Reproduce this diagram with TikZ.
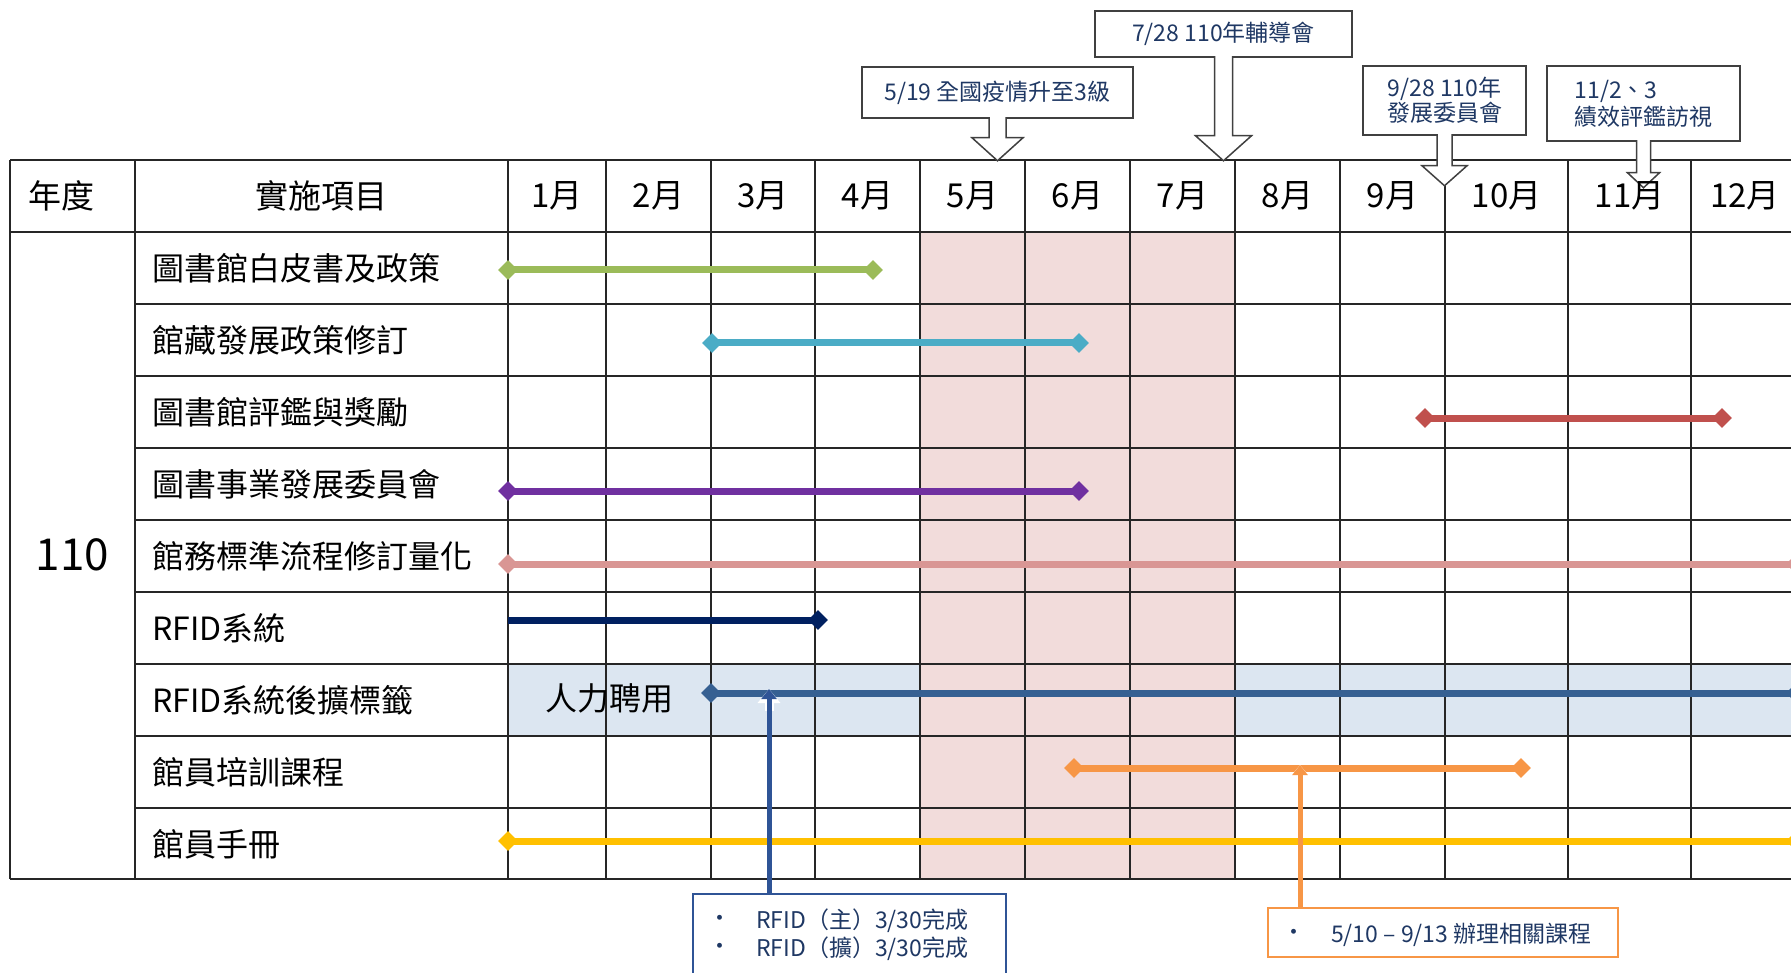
\documentclass[tikz,border=0pt]{standalone}
\usepackage{fontspec}
\setmainfont{Noto Sans CJK TC}
\usetikzlibrary{shapes.geometric,arrows.meta,calc}
\definecolor{gGreen}{HTML}{9BBB59}
\definecolor{gCyan}{HTML}{4BACC6}
\definecolor{gRed}{HTML}{C0504D}
\definecolor{gPurple}{HTML}{7030A0}
\definecolor{gPink}{HTML}{D99694}
\definecolor{gNavy}{HTML}{002060}
\definecolor{gBlue}{HTML}{366092}
\definecolor{gOrange}{HTML}{F79646}
\definecolor{gYellow}{HTML}{FFC000}
\definecolor{shadePink}{HTML}{F2DCDB}
\definecolor{shadeBlue}{HTML}{DCE6F1}
\definecolor{calltext}{HTML}{1F3864}
\definecolor{boxNavy}{HTML}{2F5496}
\definecolor{gridc}{HTML}{262626}
\tikzset{
  gridline/.style={draw=gridc, line width=1.6pt},
  bar/.style={line width=7pt},
  dia/.style={diamond, fill=#1, minimum width=20pt, minimum height=20pt, inner sep=0pt},
  lbl/.style={anchor=west, font=\fontsize{32}{36}\selectfont, inner sep=0pt},
  hdr/.style={font=\fontsize{33}{36}\selectfont, inner sep=0pt},
  callbox/.style={draw=black!75, line width=1.5pt, fill=white, align=center, text=calltext, font=\fontsize{23}{25}\selectfont, inner sep=0pt},
  callarrow/.style={draw=black!75, line width=1.5pt, fill=white, line join=miter},
  conn/.style={line width=5pt, -{Triangle[width=15pt,length=10pt]}},
  halo/.style={draw=white, line width=9pt, -{Triangle[width=22pt,length=14pt]}},
  btxt/.style={text=calltext, font=\fontsize{23}{25}\selectfont, inner sep=0pt},
}
\newcommand{\calloutarrow}[5]{%
  \draw[callarrow] ($(#1.south)+(-#2,-1.5)$) -- ++(0,#3+1.5) -- ++(#2-#4,0) -- ++(#4,#5) -- ++(#4,-#5) -- ++(#2-#4,0) -- ++(0,-#3-1.5);}
\begin{document}
\begin{tikzpicture}[x=1pt,y=-1pt]
\path[use as bounding box, fill=white] (0,0) rectangle (1791,973);
% shading
\fill[shadeBlue] (508,664) rectangle (1791,736);
\fill[shadePink] (920,232) rectangle (1235,879);
% grid
\foreach \yy in {160,232,879} \draw[gridline] (10,\yy) -- (1791,\yy);
\foreach \yy in {304,376,448,520,592,664,736,808} \draw[gridline] (135,\yy) -- (1791,\yy);
\foreach \xx in {10,135,508,606,711,815,920,1025,1130,1235,1340,1445,1568,1691} \draw[gridline] (\xx,160) -- (\xx,879);
% header
\node[hdr, anchor=west] (hyear) at (28,196) {年度};
\node[hdr] (hitem) at (321.5,196) {實施項目};
% year
\node[font=\fontsize{44}{48}\selectfont, inner sep=0pt] (yr) at (72.5,555) {110};
% row labels
\node[lbl] (r1) at (152,268) {圖書館白皮書及政策};
\node[lbl] (r2) at (152,340) {館藏發展政策修訂};
\node[lbl] (r3) at (152,412) {圖書館評鑑與獎勵};
\node[lbl] (r4) at (152,484) {圖書事業發展委員會};
\node[lbl] (r5) at (152,556) {館務標準流程修訂量化};
\node[lbl] (r6) at (152,628) {RFID系統};
\node[lbl] (r7) at (152,700) {RFID系統後擴標籤};
\node[lbl] (r8) at (152,772) {館員培訓課程};
\node[lbl] (r9) at (152,844) {館員手冊};
\node[font=\fontsize{32}{36}\selectfont, inner sep=0pt] (hire) at (609,698) {人力聘用};
% bars
\node[dia=gGreen] (b1s) at (508,270) {};
\node[dia=gGreen] (b1e) at (873,270) {};
\draw[bar,gGreen] (b1s.center) -- (b1e.center);
\node[dia=gCyan] (b2s) at (712,343) {};
\node[dia=gCyan] (b2e) at (1079,343) {};
\draw[bar,gCyan] (b2s.center) -- (b2e.center);
\node[dia=gRed] (b3s) at (1425,418) {};
\node[dia=gRed] (b3e) at (1722,418) {};
\draw[bar,gRed] (b3s.center) -- (b3e.center);
\node[dia=gPurple] (b4s) at (508,491) {};
\node[dia=gPurple] (b4e) at (1079,491) {};
\draw[bar,gPurple] (b4s.center) -- (b4e.center);
\node[dia=gPink] (b5s) at (508,564) {};
\node[dia=gPink] (b5e) at (1796,564) {};
\draw[bar,gPink] (b5s.center) -- (b5e.center);
\coordinate (b6s) at (508,620);
\node[dia=gNavy] (b6e) at (818,620) {};
\draw[bar,gNavy] (b6s) -- (b6e.center);
\node[dia=gBlue] (b7s) at (711,693) {};
\node[dia=gBlue] (b7e) at (1796,693) {};
\draw[bar,gBlue] (b7s.center) -- (b7e.center);
\node[dia=gOrange] (b8s) at (1074,768) {};
\node[dia=gOrange] (b8e) at (1521,768) {};
\draw[bar,gOrange] (b8s.center) -- (b8e.center);
\node[dia=gYellow] (b9s) at (508,841) {};
\node[dia=gYellow] (b9e) at (1796,841) {};
\draw[bar,gYellow] (b9s.center) -- (b9e.center);
% bottom callouts
\node[draw=boxNavy, line width=2.5pt, fill=white, minimum width=313pt, minimum height=100pt, inner sep=0pt] (nb) at (849.5,944) {};
\node[btxt] (nb1b) at (720,921) {•};
\node[btxt, anchor=west] (nb1) at (756,921) {RFID（主）3/30完成};
\node[btxt] (nb2b) at (720,949) {•};
\node[btxt, anchor=west] (nb2) at (756,949) {RFID（擴）3/30完成};
\coordinate (rfidtip) at (769,689);
\draw[halo] ($(rfidtip)+(0,22)$) -- (rfidtip);
\draw[conn, boxNavy] (rfidtip |- nb.north) -- (rfidtip);
\node[draw=gOrange, line width=2.5pt, fill=white, minimum width=350pt, minimum height=49pt, inner sep=0pt] (ob) at (1443,932.5) {};
\node[btxt] (ob1b) at (1294,935) {•};
\node[btxt, anchor=west] (ob1) at (1331,935) {5/10 – 9/13 辦理相關課程};
\coordinate (ortip) at (1300,765);
\draw[halo] ($(ortip)+(0,22)$) -- (ortip);
\draw[conn, gOrange] (ortip |- ob.north) -- (ortip);
% top callouts
\node[callbox, minimum width=271pt, minimum height=51pt] (c1) at (997.5,92.5) {5/19 全國疫情升至3級};
\calloutarrow{c1}{8.5}{19}{25.5}{23}
\node[callbox, minimum width=257pt, minimum height=46pt] (c2) at (1223.5,34) {7/28 110年輔導會};
\calloutarrow{c2}{9}{78}{28}{25}
\node[callbox, minimum width=163pt, minimum height=69pt, font=\fontsize{23}{23}\selectfont] (c3) at (1444.5,100.5) {9/28 110年\\發展委員會};
\calloutarrow{c3}{7.5}{30}{22.5}{20}
\node[callbox, align=left, minimum width=193pt, minimum height=75pt, font=\fontsize{23}{27}\selectfont] (c4) at (1643.5,103.5) {11/2、3\\績效評鑑訪視};
\calloutarrow{c4}{7}{31}{16}{15}
% month labels
\foreach \m/\xx in {1/557,2/658.5,3/763,4/867.5,5/972.5,6/1077.5,7/1182.5,8/1287.5,9/1392.5,10/1506.5,11/1629.5,12/1745}
  \node[hdr] (m\m) at (\xx,196) {\m 月};
\end{tikzpicture}
\end{document}
